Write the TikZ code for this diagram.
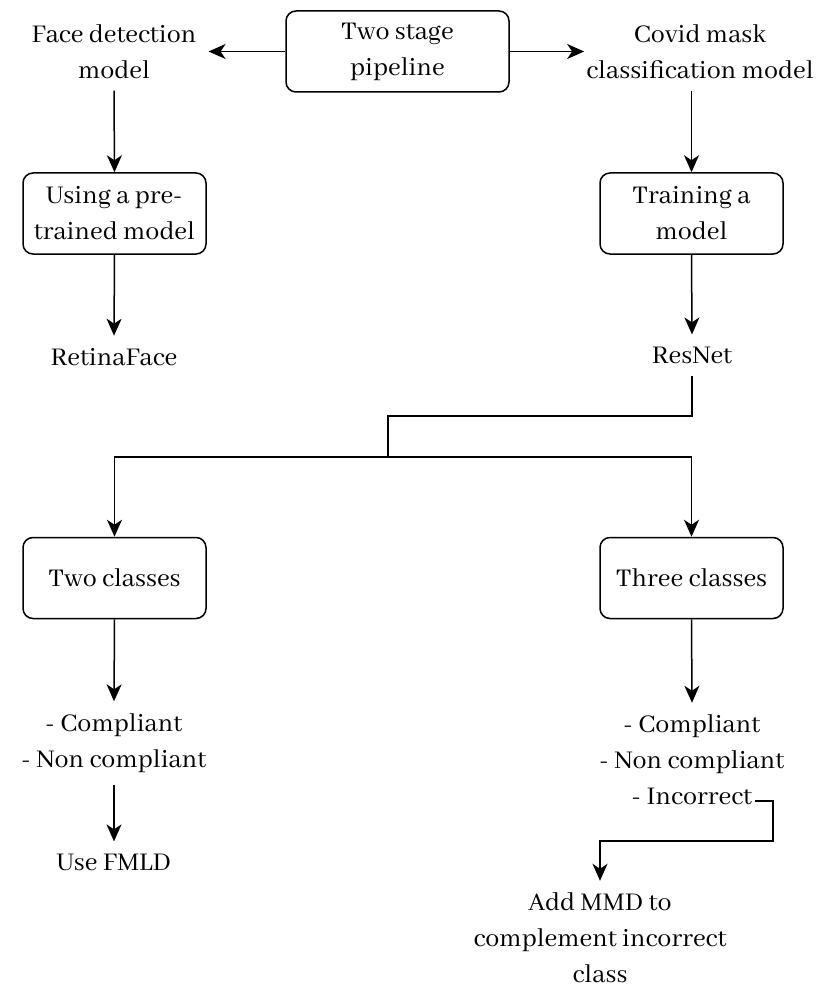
\documentclass[tikz,border=0pt]{standalone}
\usepackage{fontspec}
\setmainfont{Abhaya Libre}
\usetikzlibrary{arrows.meta}

\tikzset{
  stagebox/.style={draw, rounded corners=10pt, line width=1.5pt, minimum width=183pt, minimum height=81pt, align=center, inner sep=2pt},
  lbl/.style={align=center, inner sep=12pt},
  arr/.style={-{Stealth[length=17pt,width=15pt,inset=5pt]}, line width=1.5pt},
}

\begin{document}
\begin{tikzpicture}[x=1pt,y=-1pt,font=\fontsize{28}{36}\selectfont]
            \useasboundingbox (0,0) rectangle (825,992);

            \node[stagebox, minimum width=223pt] (pipe) at (397.5,51.5) {Two stage\\pipeline};
            \node[lbl] (face) at (114,51.5) {Face detection\\model};
            \node[lbl] (covid) at (700,51.5) {Covid mask\\classification model};

            \node[stagebox] (pre) at (114.5,213.5) {Using a pre-\\trained model};
            \node[stagebox] (train) at (691.5,213.5) {Training a\\model};
            \node[lbl, anchor=base] (retina) at (114,365) {RetinaFace};
            \node[lbl, anchor=base] (resnet) at (692,363) {ResNet};

            \coordinate (bend) at (388,416);
            \coordinate (split) at (388,457);

            \node[stagebox] (two) at (114.5,578) {Two classes};
            \node[stagebox] (three) at (691.5,578) {Three classes};
            \node[lbl] (cl2) at (114,743) {- Compliant\\- Non compliant};
            \node[lbl] (cl3) at (692,760) {- Compliant\\- Non compliant\\- Incorrect};
            \node[lbl, anchor=base] (fmld) at (114,870) {Use FMLD};

            \coordinate (incend) at (755,801);
            \coordinate (incturn) at (773,841);
            \node[lbl] (mmd) at (600,938) {Add MMD to\\complement incorrect\\class};

            \draw[arr] (pipe.west) -- (face.east);
            \draw[arr] (pipe.east) -- ([xshift=10pt]covid.west);
            \draw[arr] (face.south) -- (pre.north);
            \draw[arr] (covid.south -| train) -- (train.north);
            \draw[arr] (pre.south) -- (retina.north);
            \draw[arr] (train.south) -- (resnet.north);

            \draw[line width=1.5pt] (resnet.south) |- (bend) -- (split);
            \draw[arr] (split) -| (two.north);
            \draw[arr] (split) -| (three.north);

            \draw[arr] (two.south) -- (cl2.north);
            \draw[arr] (cl2.south) -- (fmld.north);
            \draw[arr] (three.south) -- (cl3.north);
            \draw[arr] (incend) -| (incturn) -| (mmd.north);
        \end{tikzpicture}
\end{document}
